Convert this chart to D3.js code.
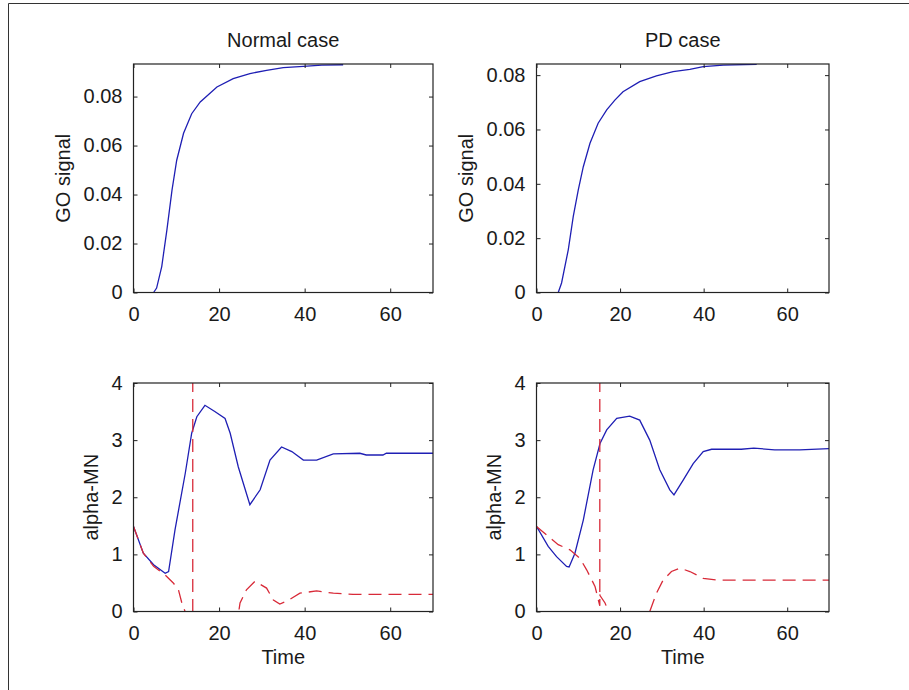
<!DOCTYPE html>
<html><head><meta charset="utf-8">
<script src="https://cdn.jsdelivr.net/npm/d3@7"></script>
<style>
html,body{margin:0;padding:0;background:#fff;}
svg{display:block;}
text{font-family:"Liberation Sans",Arial,sans-serif;fill:#1a1a1a;}
</style></head>
<body>
<svg id="chart" width="909" height="690"></svg>
<script>
// ---- data ----
const titles = ["Normal case", "PD case"];
const xTicks = [0, 20, 40, 60];
const goTicks = [0, 0.02, 0.04, 0.06, 0.08];
const mnTicks = [0, 1, 2, 3, 4];

const goNormalT = [4.7,5.4,6.6,7.8,9.0,10.1,11.7,13.6,15.6,19.5,23.3,27.2,31.1,35.0,39.7,44,49];
const goNormalV = [0,0.0018,0.0106,0.0255,0.0418,0.054,0.065,0.073,0.0778,0.0839,0.0873,0.0894,0.0907,0.0918,0.0923,0.0928,0.0930];

const goPDT = [5.2,6.0,7.6,8.8,10.0,11.2,12.8,14.75,16.8,18.75,20.7,24.7,28.7,32.7,36.7,39.9,44.7,52.7];
const goPDV = [0,0.0035,0.0157,0.028,0.0378,0.0463,0.0549,0.0623,0.0672,0.0708,0.0739,0.0776,0.0797,0.0813,0.0821,0.0831,0.0837,0.0840];

const mnNormalT = [0,2.3,4.7,7.4,8.2,9.7,12.1,13.6,14.8,16.7,19,21.4,22.6,24.5,27.2,29.6,31.9,34.6,37,39.7,42.8,46.7,52.9,54.4,58.3,59.1,70];
const mnNormalV = [1.49,1.02,0.82,0.67,0.70,1.43,2.42,3.12,3.41,3.61,3.50,3.38,3.12,2.53,1.87,2.13,2.65,2.88,2.80,2.65,2.65,2.76,2.77,2.74,2.74,2.77,2.77];

// null marks a break in the recorded trace (spike that leaves the plotted range)
const mnNormalRedT = [0,2.3,4.7,7.4,9.3,10.5,11.3,12.05,13,13.85,13.85,null,13.9,19,24.5,24.9,26.4,28.4,31.1,32.7,34.2,35.8,38.9,42.8,46.7,51.3,70];
const mnNormalRedV = [1.49,1.02,0.79,0.64,0.50,0.38,0.15,0,-0.3,-0.5,5,null,-0.5,-1,-0.05,0.15,0.38,0.53,0.41,0.2,0.13,0.18,0.32,0.36,0.32,0.30,0.30];

const mnPDT = [0,2.8,4.8,7.2,7.8,9.2,11.2,13.55,15.2,16.8,19.2,22.3,24.7,27.1,29.5,31.9,32.9,35.1,37.5,39.9,41.9,49,52,57,63,70];
const mnPDV = [1.49,1.14,0.96,0.79,0.78,1.02,1.6,2.48,2.94,3.18,3.38,3.42,3.35,3.0,2.48,2.13,2.04,2.30,2.59,2.80,2.84,2.84,2.86,2.83,2.83,2.85];

const mnPDRedT = [0,2.4,5.2,8,10.4,12,14,15.15,15.15,null,15.15,15.2,16.4,17.2,22,27.1,28.7,30.3,32.3,34.3,36.7,39.9,43.1,70];
const mnPDRedV = [1.49,1.34,1.17,1.08,0.93,0.73,0.44,0.1,5,null,0.3,0.28,0.15,0,-0.8,0,0.32,0.55,0.70,0.76,0.70,0.58,0.55,0.55];

const zip = (t, v) => t.map((d, i) => [d, v[i]]);

const svg = d3.select("#chart");
// outer frame (left and top edges)
svg.append("path").attr("d", "M8.5,690 L8.5,3.5 L909,3.5")
  .attr("fill", "none").attr("stroke", "#333").attr("stroke-width", 1);

const cols = [[133.5, 433], [536.5, 829]];
const rows = [[64, 292.5], [383, 611.5]];
const BLUE = "#1f1fb4", RED = "#d82a38";

const panels = [
  {c:0, r:0, ymax:0.0933, yt:goTicks, ylab:"GO signal", fmt:d => d === 0 ? "0" : d3.format(".2f")(d),
   lines:[{d:zip(goNormalT, goNormalV), col:BLUE}], title:titles[0]},
  {c:1, r:0, ymax:0.0841, yt:goTicks, ylab:"GO signal", fmt:d => d === 0 ? "0" : d3.format(".2f")(d),
   lines:[{d:zip(goPDT, goPDV), col:BLUE}], title:titles[1]},
  {c:0, r:1, ymax:4, yt:mnTicks, ylab:"alpha-MN", fmt:d3.format("d"),
   lines:[{d:zip(mnNormalT, mnNormalV), col:BLUE}, {d:zip(mnNormalRedT, mnNormalRedV), col:RED, dash:"13,7"}], xlab:"Time"},
  {c:1, r:1, ymax:4, yt:mnTicks, ylab:"alpha-MN", fmt:d3.format("d"),
   lines:[{d:zip(mnPDT, mnPDV), col:BLUE}, {d:zip(mnPDRedT, mnPDRedV), col:RED, dash:"13,7"}], xlab:"Time"}
];

panels.forEach((p, i) => {
  const [x0, x1] = cols[p.c], [y0, y1] = rows[p.r];
  const x = d3.scaleLinear().domain([0, 70]).range([x0, x1]);
  const y = d3.scaleLinear().domain([0, p.ymax]).range([y1, y0]);
  const g = svg.append("g");
  const cid = "clip" + i;
  svg.append("clipPath").attr("id", cid).append("rect")
    .attr("x", x0).attr("y", y0).attr("width", x1 - x0).attr("height", y1 - y0);

  const line = d3.line().defined(d => d[0] !== null && d[1] !== null)
    .x(d => x(d[0])).y(d => y(d[1]));
  p.lines.forEach(l => {
    // split into segments at breaks so each restarts its dash pattern
    const segs = [[]];
    l.d.forEach(d => { if (d[0] === null) segs.push([]); else segs[segs.length - 1].push(d); });
    segs.forEach(s => {
      g.append("path").datum(s).attr("d", line).attr("clip-path", `url(#${cid})`)
        .attr("fill", "none").attr("stroke", l.col).attr("stroke-width", 1.3)
        .attr("stroke-dasharray", l.dash || null);
    });
  });

  const TK = 4;
  const styleAxis = a => {
    a.select(".domain").remove();
    a.selectAll(".tick line").attr("stroke", "#222");
    a.selectAll(".tick text").attr("font-size", 20).attr("fill", "#1a1a1a")
      .attr("font-family", '"Liberation Sans", Arial, sans-serif');
  };
  const ax = g.append("g").attr("transform", `translate(0,${y1})`)
    .call(d3.axisBottom(x).tickValues(xTicks).tickSize(-TK).tickPadding(14).tickFormat(d3.format("d")));
  styleAxis(ax);
  ax.selectAll(".tick text").attr("dy", "0.71em");
  const axT = g.append("g").attr("transform", `translate(0,${y0})`)
    .call(d3.axisTop(x).tickValues(xTicks).tickSize(-TK).tickFormat(""));
  styleAxis(axT);
  const ay = g.append("g").attr("transform", `translate(${x0},0)`)
    .call(d3.axisLeft(y).tickValues(p.yt).tickSize(-TK).tickPadding(11).tickFormat(p.fmt));
  styleAxis(ay);
  const ayR = g.append("g").attr("transform", `translate(${x1},0)`)
    .call(d3.axisRight(y).tickValues(p.yt).tickSize(-TK).tickFormat(""));
  styleAxis(ayR);

  g.append("rect").attr("x", x0).attr("y", y0).attr("width", x1 - x0).attr("height", y1 - y0)
    .attr("fill", "none").attr("stroke", "#222").attr("stroke-width", 1.2);

  const cx = (x0 + x1) / 2, cy = (y0 + y1) / 2;
  if (p.title) g.append("text").attr("x", cx).attr("y", 47).attr("text-anchor", "middle")
    .attr("font-size", 20).text(p.title);
  if (p.xlab) g.append("text").attr("x", cx).attr("y", 664).attr("text-anchor", "middle")
    .attr("font-size", 20).text(p.xlab);
  const lx = p.r === 0 ? x0 - 64 : x0 - 36;
  g.append("text").attr("transform", `translate(${lx},${cy}) rotate(-90)`)
    .attr("text-anchor", "middle").attr("font-size", 20).text(p.ylab);
});
</script>
</body></html>
